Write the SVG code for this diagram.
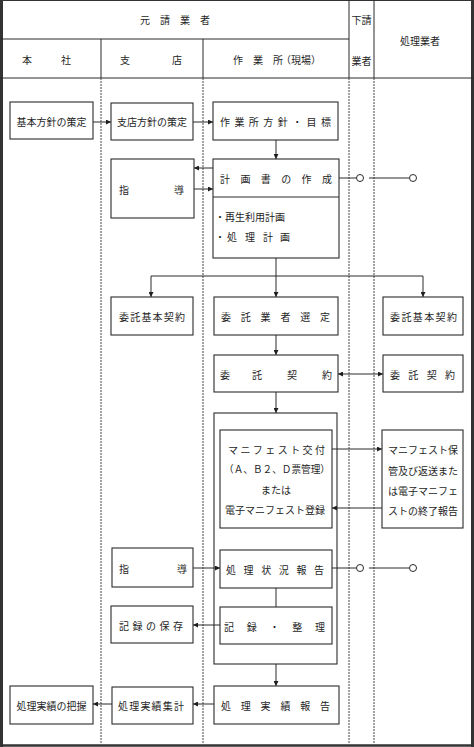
<svg xmlns="http://www.w3.org/2000/svg" width="474" height="747" viewBox="0 0 474 747">
<style>
.bg{fill:#fff}
.box{fill:#fff;stroke:#2a2a2a;stroke-width:1.1}
.ln{stroke:#2a2a2a;stroke-width:1;fill:none}
.dash{stroke:#444;stroke-width:1;stroke-dasharray:2 1;fill:none}
.bd{stroke:#333;fill:none}
.cir{fill:#fff;stroke:#2a2a2a;stroke-width:1}
text{font-family:"Noto Sans CJK JP","Noto Sans CJK SC",sans-serif;font-size:10px;fill:#1e1e1e;dominant-baseline:central}
.m{text-anchor:middle}
</style>
<defs>
<marker id="ah" markerWidth="5" markerHeight="5" refX="5" refY="2.5" orient="auto-start-reverse" markerUnits="userSpaceOnUse">
<path d="M0,0 L5,2.5 L0,5 z" fill="#1e1e1e"/>
</marker>
</defs>
<rect class="bg" x="0" y="0" width="474" height="747"/>

<g id="frame">
<line class="bd" x1="0" y1="0.5" x2="474" y2="0.5" stroke-width="1"/>
<line class="bd" x1="1.5" y1="0" x2="1.5" y2="747" stroke-width="3"/>
<line class="bd" x1="472.5" y1="0" x2="472.5" y2="747" stroke-width="3"/>
<line class="bd" x1="0" y1="745.5" x2="474" y2="745.5" stroke-width="2.5"/>
<line class="ln" x1="0" y1="39" x2="349" y2="39"/>
<line class="ln" x1="0" y1="78" x2="474" y2="78"/>
<line class="ln" x1="101" y1="39" x2="101" y2="78"/>
<line class="ln" x1="203" y1="39" x2="203" y2="78"/>
<line class="ln" x1="349" y1="0" x2="349" y2="78"/>
<line class="ln" x1="374" y1="0" x2="374" y2="78"/>
<line class="dash" x1="101" y1="78" x2="101" y2="744"/>
<line class="dash" x1="203" y1="78" x2="203" y2="744"/>
<line class="dash" x1="349" y1="78" x2="349" y2="744"/>
<line class="dash" x1="374" y1="78" x2="374" y2="744"/>
</g>

<g id="header">
<text x="140" y="19" textLength="70" lengthAdjust="spacing">元請業者</text>
<text x="22" y="59" textLength="49" lengthAdjust="spacing">本社</text>
<text x="120" y="59" textLength="62" lengthAdjust="spacing">支店</text>
<text x="233 253 273 281 291 301 311" y="59">作業所（現場）</text>
<text class="m" x="361.5" y="19">下請</text>
<text class="m" x="361.5" y="60">業者</text>
<text class="m" x="420" y="40">処理業者</text>
</g>

<g id="connectors">
<line class="ln" x1="93" y1="122" x2="111" y2="122" marker-end="url(#ah)"/>
<line class="ln" x1="193" y1="122" x2="213" y2="122" marker-end="url(#ah)"/>
<line class="ln" x1="276" y1="140" x2="276" y2="159" marker-end="url(#ah)"/>
<line class="ln" x1="213" y1="168" x2="194" y2="168" marker-end="url(#ah)"/>
<line class="ln" x1="194" y1="189" x2="213" y2="189" marker-end="url(#ah)"/>
<line class="ln" x1="339" y1="178" x2="356.5" y2="178"/>
<line class="ln" x1="369" y1="178" x2="409.5" y2="178"/>
<circle class="cir" cx="360" cy="178" r="3.5"/>
<circle class="cir" cx="413" cy="178" r="3.5"/>
<line class="ln" x1="276" y1="258" x2="276" y2="297" marker-end="url(#ah)"/>
<polyline class="ln" points="151,297 151,276 423,276 423,297" marker-end="url(#ah)" marker-start="url(#ah)"/>
<line class="ln" x1="276" y1="335" x2="276" y2="355" marker-end="url(#ah)"/>
<line class="ln" x1="338" y1="374" x2="383" y2="374" marker-start="url(#ah)" marker-end="url(#ah)"/>
<line class="ln" x1="276" y1="392" x2="276" y2="413" marker-end="url(#ah)"/>
<line class="ln" x1="332" y1="449" x2="382" y2="449" marker-end="url(#ah)"/>
<line class="ln" x1="382" y1="508" x2="332" y2="508" marker-end="url(#ah)"/>
<line class="ln" x1="193" y1="568" x2="220" y2="568" marker-end="url(#ah)"/>
<line class="ln" x1="332" y1="568" x2="356.5" y2="568"/>
<line class="ln" x1="369" y1="568" x2="409.5" y2="568"/>
<circle class="cir" cx="360" cy="568" r="3.5"/>
<circle class="cir" cx="413" cy="568" r="3.5"/>
<line class="ln" x1="276" y1="588" x2="276" y2="607"/>
<line class="ln" x1="220" y1="625" x2="193" y2="625" marker-end="url(#ah)"/>
<line class="ln" x1="276" y1="664" x2="276" y2="686" marker-end="url(#ah)"/>
<line class="ln" x1="214" y1="704" x2="193" y2="704" marker-end="url(#ah)"/>
<line class="ln" x1="112" y1="704" x2="93" y2="704" marker-end="url(#ah)"/>
</g>

<g id="n1"><rect class="box" x="10" y="102" width="83" height="37"/><text class="m" x="51.5" y="121">基本方針の策定</text></g>
<g id="n2"><rect class="box" x="111" y="103" width="82" height="37"/><text class="m" x="152" y="121">支店方針の策定</text></g>
<g id="n3"><rect class="box" x="213" y="102" width="125" height="38"/><text x="220" y="121" textLength="111" lengthAdjust="spacing">作業所方針・目標</text></g>
<g id="n4"><rect class="box" x="111" y="159" width="83" height="59"/><text x="119" y="189" textLength="65" lengthAdjust="spacing">指導</text></g>
<g id="n5"><rect class="box" x="213" y="159" width="126" height="99"/><line class="ln" x1="213" y1="197" x2="339" y2="197"/>
<text x="220" y="178" textLength="112" lengthAdjust="spacing">計画書の作成</text>
<text x="215 225" y="216">・再生利用計画</text>
<text x="215 227 245 263 280" y="236">・処理計画</text></g>
<g id="n6"><rect class="box" x="111" y="297" width="82" height="38"/><text x="119" y="316" textLength="66" lengthAdjust="spacing">委託基本契約</text></g>
<g id="n7"><rect class="box" x="214" y="297" width="124" height="38"/><text x="221" y="316" textLength="109" lengthAdjust="spacing">委託業者選定</text></g>
<g id="n8"><rect class="box" x="383" y="297" width="80" height="38"/><text x="390" y="316" textLength="67" lengthAdjust="spacing">委託基本契約</text></g>
<g id="n9"><rect class="box" x="214" y="355" width="124" height="37"/><text x="220 252 287 322" y="374">委託契約</text></g>
<g id="n10"><rect class="box" x="383" y="355" width="80" height="37"/><text x="390" y="374" textLength="65" lengthAdjust="spacing">委託契約</text></g>
<g id="n11"><rect class="box" x="214" y="413" width="123" height="251" fill="none" style="fill:none"/></g>
<g id="n12"><rect class="box" x="220" y="430" width="112" height="98"/>
<text x="228" y="449" textLength="97" lengthAdjust="spacing">マニフェスト交付</text>
<text x="224" y="468" textLength="106" lengthAdjust="spacingAndGlyphs">（Ａ、Ｂ２、Ｄ票管理）</text>
<text class="m" x="276" y="489">または</text>
<text x="225" y="509">電子マニフェスト登録</text></g>
<g id="n13"><rect class="box" x="382" y="430" width="81" height="98"/>
<text x="388" y="449">マニフェスト保</text>
<text x="388" y="470">管及び返送また</text>
<text x="388" y="490">は電子マニフェ</text>
<text x="388" y="510">ストの終了報告</text></g>
<g id="n14"><rect class="box" x="112" y="548" width="81" height="39"/><text x="119" y="568" textLength="68" lengthAdjust="spacing">指導</text></g>
<g id="n15"><rect class="box" x="220" y="550" width="112" height="38"/><text x="226" y="569" textLength="98" lengthAdjust="spacing">処理状況報告</text></g>
<g id="n16"><rect class="box" x="220" y="607" width="112" height="37"/><text x="224" y="626" textLength="101" lengthAdjust="spacing">記録・整理</text></g>
<g id="n17"><rect class="box" x="111" y="606" width="82" height="37"/><text x="119" y="625" textLength="64" lengthAdjust="spacing">記録の保存</text></g>
<g id="n18"><rect class="box" x="214" y="686" width="125" height="38"/><text x="221" y="705" textLength="109" lengthAdjust="spacing">処理実績報告</text></g>
<g id="n19"><rect class="box" x="112" y="687" width="81" height="37"/><text x="118" y="705" textLength="66" lengthAdjust="spacing">処理実績集計</text></g>
<g id="n20"><rect class="box" x="10" y="686" width="83" height="38"/><text class="m" x="51.5" y="705">処理実績の把握</text></g>
</svg>
